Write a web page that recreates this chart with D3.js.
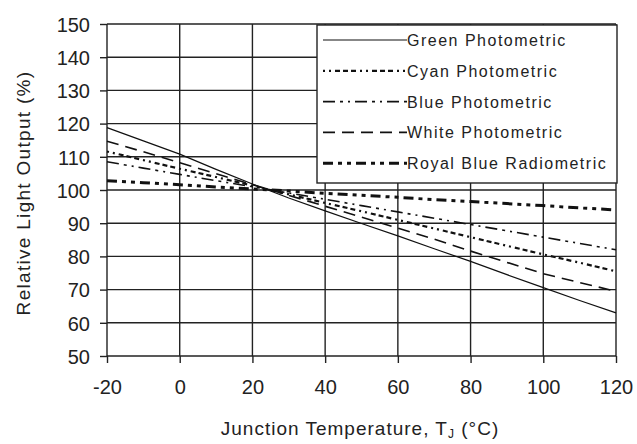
<!DOCTYPE html>
<html>
<head>
<meta charset="utf-8">
<script src="https://cdn.jsdelivr.net/npm/d3@7"></script>
<style>
  body { margin: 0; background: #fff; }
  text { font-family: "Liberation Sans", Arial, sans-serif; fill: #222; }
</style>
</head>
<body>
<svg id="chart" width="637" height="444"></svg>
<script>
const temps = [-20, -10, 0, 10, 20, 30, 40, 50, 60, 70, 80, 90, 100, 110, 120];

const green = [118.8, 114.8, 110.8, 106.2, 101.8, 97.6, 93.7, 89.9, 86.2, 82.3, 78.5, 74.5, 70.6, 66.7, 63];
const cyan = [111.6, 109, 106.4, 103.9, 101.3, 98.7, 96.1, 93.6, 91, 88.4, 85.8, 83.2, 80.6, 78.1, 75.5];
const blue = [108.5, 106.6, 104.7, 102.8, 101, 99.1, 97.2, 95.3, 93.4, 91.5, 89.6, 87.7, 85.8, 83.9, 82];
const white = [114.7, 111.5, 108.2, 104.9, 101.6, 98.4, 95.1, 91.8, 88.5, 85.2, 81.6, 78.2, 74.8, 72.1, 69.5];
const royalBlue = [102.8, 102.2, 101.6, 100.9, 100.3, 99.7, 99, 98.4, 97.8, 97.1, 96.5, 95.9, 95.3, 94.6, 94];

const seriesNames = ["Green Photometric", "Cyan Photometric", "Blue Photometric", "White Photometric", "Royal Blue Radiometric"];

const xTicks = [-20, 0, 20, 40, 60, 80, 100, 120];
const yTicks = [50, 60, 70, 80, 90, 100, 110, 120, 130, 140, 150];

const svg = d3.select("#chart");

const margin = { top: 24, right: 21, bottom: 88, left: 107 };
const width = 637 - margin.left - margin.right;
const height = 444 - margin.top - margin.bottom;

const x = d3.scaleLinear().domain([-20, 120]).range([0, width]);
const y = d3.scaleLinear().domain([50, 150]).range([height, 0]);

const g = svg.append("g")
    .attr("transform", `translate(${margin.left},${margin.top})`);

// grid
g.selectAll(".hgrid")
    .data(yTicks)
    .enter()
    .append("line")
    .attr("x1", 0)
    .attr("x2", width)
    .attr("y1", d => y(d))
    .attr("y2", d => y(d))
    .attr("stroke", "#222")
    .attr("stroke-width", 1.4);

g.selectAll(".vgrid")
    .data(xTicks)
    .enter()
    .append("line")
    .attr("x1", d => x(d))
    .attr("x2", d => x(d))
    .attr("y1", 0)
    .attr("y2", height)
    .attr("stroke", "#222")
    .attr("stroke-width", 1.4);

// axes (plain hyphen for negatives, like the original)
const fmt = d => String(d);
const yAxis = g.append("g")
    .call(d3.axisLeft(y).tickValues(yTicks).tickFormat(fmt).tickSize(7).tickPadding(10));
const xAxis = g.append("g")
    .attr("transform", `translate(0,${height})`)
    .call(d3.axisBottom(x).tickValues(xTicks).tickFormat(fmt).tickSize(7).tickPadding(17));

[yAxis, xAxis].forEach(a => {
    a.select(".domain").remove();
    a.selectAll(".tick line").attr("stroke", "#222").attr("stroke-width", 1.4);
    a.selectAll("text")
        .attr("font-size", 20)
        .attr("font-family", "Liberation Sans, Arial, sans-serif")
        .attr("fill", "#222");
});
yAxis.selectAll("text").attr("dy", "0.36em");

// series
const styles = [
    { data: green, width: 1.2, dash: null },
    { data: cyan, width: 2.2, dash: "2,4,2,4,5,3,5,3,5,4" },
    { data: blue, width: 1.6, dash: "12,5,3,5,2,5" },
    { data: white, width: 1.6, dash: "12,7" },
    { data: royalBlue, width: 3, dash: "10,5,4,5,4,5" }
];

const line = d3.line()
    .x((d, i) => x(temps[i]))
    .y(d => y(d));

g.selectAll(".series")
    .data(styles)
    .enter()
    .append("path")
    .attr("class", "series")
    .attr("d", d => line(d.data))
    .attr("fill", "none")
    .attr("stroke", "#111")
    .attr("stroke-width", d => d.width)
    .attr("stroke-dasharray", d => d.dash);

// legend
const legend = svg.append("g").attr("transform", "translate(317,25)");
legend.append("rect")
    .attr("width", 300)
    .attr("height", 158)
    .attr("fill", "#fff")
    .attr("stroke", "#222")
    .attr("stroke-width", 1.4);

const rows = legend.selectAll(".row")
    .data(styles)
    .enter()
    .append("g")
    .attr("transform", (d, i) => `translate(0,${15 + i * 30.8})`);

rows.append("line")
    .attr("x1", 6)
    .attr("x2", 90)
    .attr("stroke", "#111")
    .attr("stroke-width", d => d.width)
    .attr("stroke-dasharray", d => d.dash);

rows.append("text")
    .attr("x", 90)
    .attr("y", 6)
    .attr("font-size", 16)
    .attr("letter-spacing", 1.5)
    .text((d, i) => seriesNames[i]);

// axis titles
svg.append("text")
    .attr("transform", "translate(30,193) rotate(-90)")
    .attr("text-anchor", "middle")
    .attr("font-size", 19)
    .attr("letter-spacing", 1.3)
    .text("Relative Light Output (%)");

const xTitle = svg.append("text")
    .attr("x", 360)
    .attr("y", 435)
    .attr("text-anchor", "middle")
    .attr("font-size", 19)
    .attr("letter-spacing", 1);
xTitle.append("tspan").text("Junction Temperature, T");
xTitle.append("tspan").attr("font-size", 12).attr("dy", 3).text("J");
xTitle.append("tspan").attr("dy", -3).text(" (°C)");
</script>
</body>
</html>
